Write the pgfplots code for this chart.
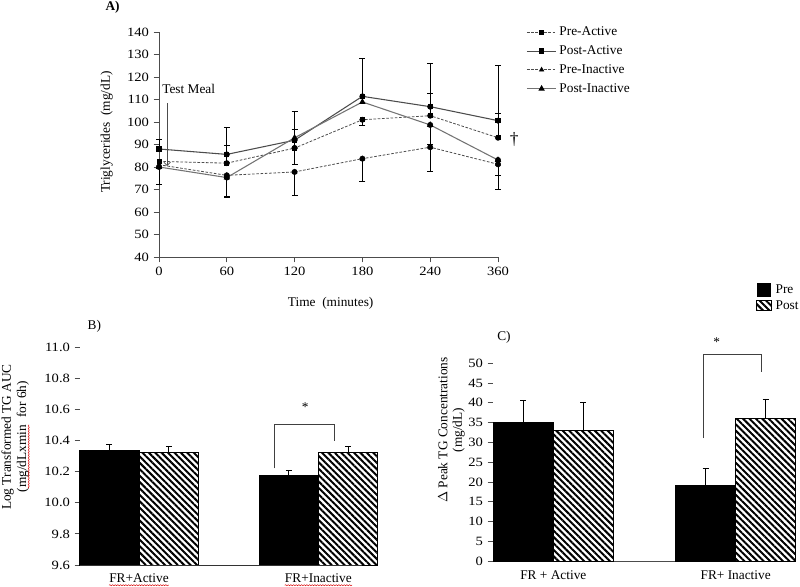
\documentclass[border=0pt]{standalone}
\usepackage{fontspec}
\setmainfont{Liberation Serif}
\newfontfamily\tickfont[FakeStretch=1.15]{Liberation Serif}
\usepackage{pgfplots}
\pgfplotsset{compat=1.18}
\usetikzlibrary{patterns.meta,decorations.pathmorphing,arrows.meta}
\tikzset{hatch/.style={pattern={Lines[angle=-45,distance=3.4pt,line width=1.5pt]},pattern color=black}}
\newcommand{\wavy}[1]{\tikz[baseline=(w.base)]{\node[inner sep=0pt](w){#1};\draw[red!85!black,line width=0.35pt,decorate,decoration={snake,amplitude=0.4pt,segment length=2pt}]([yshift=-2pt]w.base west)--([yshift=-2pt]w.base east);}}
\newcommand{\tl}{\tickfont\fontsize{9.5}{11}\selectfont}
\newcommand{\lb}{\fontsize{10}{12}\selectfont}
\pgfplotsset{
  myaxis/.style={
    /pgf/number format/assume math mode=true,
    scale only axis, anchor=south west, clip=false,
    tick label style={font=\tl},
    axis line style={black!70, line width=0.6pt},
    every tick/.style={black!70, line width=0.6pt},
    major tick length=4pt,
    tick align=outside,
  },
  errA/.style={error bars/.cd, y explicit, error bar style={black, line width=0.6pt}, error mark options={rotate=90, black, mark size=2.2pt, line width=0.6pt}},
  errB/.style={error bars/.cd, y dir=plus, y explicit, error bar style={black, line width=0.6pt}, error mark options={rotate=90, black, mark size=2.2pt, line width=0.6pt}},
}
\begin{document}
\begin{tikzpicture}[x=1pt,y=1pt]
\path[use as bounding box] (0,0) rectangle (600,439.5);
% ---------------- Panel A
\begin{axis}[myaxis,
  at={(119.25pt,246.75pt)}, width=254.25pt, height=168.75pt,
  xmin=0, xmax=5, ymin=40, ymax=140,
  axis x line*=bottom, axis y line*=left,
  xtick={0,1,2,3,4,5}, xticklabels={0,60,120,180,240,360},
  ytick={40,50,60,70,80,90,100,110,120,130,140},
  legend style={at={(1.083,1.036)}, anchor=north west, draw=none, fill=none, font=\lb, row sep=2pt, inner sep=0pt, /tikz/every even column/.append style={column sep=2pt}},
  legend cell align=left,
  legend image code/.code={\draw[mark repeat=2,mark phase=2,#1] plot coordinates {(0pt,0pt) (11pt,0pt) (22pt,0pt)};},
]
\addplot[forget plot, only marks, mark=none, error bars/y dir=plus, errA]
 coordinates {(0,88) +- (0,4.4) (1,85.6) +- (0,11.9) (2,91.9) +- (0,12.8) (3,111.4) +- (0,16.7) (4,106.8) +- (0,19.3) (5,100.6) +- (0,24.7)
 (1,81.7) +- (0,7.9) (2,88.4) +- (0,8.3) (4,102.8) +- (0,9.9) (5,93) +- (0,11)};
\addplot[forget plot, only marks, mark=none, error bars/y dir=minus, errA]
 coordinates {(0,80) +- (0,7.6) (1,76.3) +- (0,9.3) (1,75.3) +- (0,8.9) (2,88.4) +- (0,7.4) (2,77.8) +- (0,10.4) (3,101) +- (0,2.5) (3,83.7) +- (0,10.1) (4,98.7) +- (0,8.6) (4,88.8) +- (0,10.9) (5,81.2) +- (0,11) (5,83.1) +- (0,6.7)};
\addplot[black!70, line width=0.6pt, dash pattern=on 2pt off 1.2pt, mark=square*, mark size=1.5pt, mark options={solid, black}]
 coordinates {(0,82.5) (1,81.7) (2,88.4) (3,101) (4,102.8) (5,93)};
\addlegendentry{Pre-Active}
\addplot[black!70, line width=0.8pt, mark=square*, mark size=1.6pt, mark options={solid, black}]
 coordinates {(0,88) (1,85.6) (2,91.9) (3,111.4) (4,106.8) (5,100.6)};
\addlegendentry{Post-Active}
\addplot[black!70, line width=0.6pt, dash pattern=on 2pt off 1.2pt, mark=triangle*, mark size=1.8pt, mark options={solid, black}]
 coordinates {(0,81) (1,76.3) (2,77.8) (3,83.7) (4,88.8) (5,81.2)};
\addlegendentry{Pre-Inactive}
\addplot[black!55, line width=0.8pt, mark=triangle*, mark size=2pt, mark options={solid, black}]
 coordinates {(0,80) (1,75.3) (2,93) (3,108.9) (4,98.7) (5,83.1)};
\addlegendentry{Post-Inactive}
\node[anchor=west, font=\lb, inner sep=0pt] at (axis cs:0.045,114.7) {Test Meal};
\draw[black!70, line width=0.6pt, -{Straight Barb[length=2.5pt]}] (axis cs:0.12,108.4) -- (axis cs:0.12,80.4);
\node[font=\fontsize{13}{14}\selectfont, inner sep=0pt] at (axis cs:5.24,92) {\textdagger};
\end{axis}
\node[font=\bfseries\lb] at (84.4,434.25) {A)};
\node[font=\lb, rotate=90] at (80,340.5) {Triglycerides\ \ (mg/dL)};
\node[font=\lb] at (248,212.25) {Time\ \ (minutes)};
% ---------------- Panel B
\begin{axis}[myaxis,
  at={(60pt,15.75pt)}, width=223.3pt, height=163.4pt,
  xmin=-0.329, xmax=1.331, ymin=9.6, ymax=11.0,
  axis x line*=bottom, axis y line*=left,
  x axis line style={draw=none}, y axis line style={draw=none},
  xtick={0,1}, xticklabels={\wavy{FR+Active},\wavy{FR+Inactive}},
  xticklabel style={font=\lb, yshift=1pt},
  xtick style={draw=none},
  ytick={9.6,9.8,10.0,10.2,10.4,10.6,10.8,11.0},
  yticklabel style={/pgf/number format/.cd, fixed, fixed zerofill, precision=1},
]
\addplot[ybar, bar width=0.331, bar shift=0pt, fill=black, draw=black, errB]
 coordinates {(-0.1655,10.336) +- (0,0.036) (0.8345,10.174) +- (0,0.032)};
\addplot[ybar, bar width=0.331, bar shift=0pt, hatch, draw=black, line width=0.5pt, errB]
 coordinates {(0.1655,10.323) +- (0,0.041) (1.1655,10.323) +- (0,0.041)};
\draw[black!80, line width=0.7pt] (axis cs:-0.329,9.6) -- (axis cs:1.244,9.6);
\draw[black!75, line width=0.6pt] (axis cs:0.753,10.221) -- (axis cs:0.753,10.506) -- (axis cs:1.089,10.506) -- (axis cs:1.089,10.399);
\node[font=\lb] at (axis cs:0.926,10.617) {*};
\end{axis}
\node[font=\lb] at (70.8,194.5) {B)};
\node[font=\lb, rotate=90, align=center, inner sep=0pt] at (11.6,111.75) {Log Transformed TG AUC\\[-0.5pt](\wavy{mg/dLxmin}\ \ for 6h)};
% ---------------- Panel C
\begin{axis}[myaxis,
  at={(369.75pt,18.75pt)}, width=227.25pt, height=148.3pt,
  xmin=-0.331, xmax=1.331, ymin=0, ymax=50,
  axis x line*=bottom, axis y line*=left,
  y axis line style={draw=none},
  xtick={0,1}, xticklabels={FR + Active,FR+ Inactive},
  xticklabel style={font=\lb},
  xtick style={draw=none},
  ytick={0,5,10,15,20,25,30,35,40,45,50},
]
\addplot[ybar, bar width=0.329, bar shift=0pt, fill=black, draw=black, errB]
 coordinates {(-0.1645,35.08) +- (0,5.62) (0.8355,19.06) +- (0,4.3)};
\addplot[ybar, bar width=0.329, bar shift=0pt, hatch, draw=black, line width=0.5pt, errB]
 coordinates {(0.1645,33.05) +- (0,7.0) (1.1645,36.09) +- (0,4.9)};
\draw[black!75, line width=0.6pt] (axis cs:0.821,31.1) -- (axis cs:0.821,52.3) -- (axis cs:1.139,52.3) -- (axis cs:1.139,47.7);
\node[font=\lb] at (axis cs:0.896,55.3) {*};
\end{axis}
\node[font=\lb] at (378,186.75) {C)};
\node[font=\lb, rotate=90, align=center, inner sep=0pt] at (338.6,117) {$\Delta$ Peak TG Concentrations\\[-1pt](mg/dL)};
% legend for bars
\fill[black] (567.4,216.98) rectangle (578.6,227.5);
\path[hatch, draw=black, line width=0.4pt] (567.4,206.5) rectangle (578.6,214);
\node[font=\lb, anchor=west, inner sep=0pt] at (581.5,222.5) {Pre};
\node[font=\lb, anchor=west, inner sep=0pt] at (581.5,210.5) {Post};
\end{tikzpicture}
\end{document}
